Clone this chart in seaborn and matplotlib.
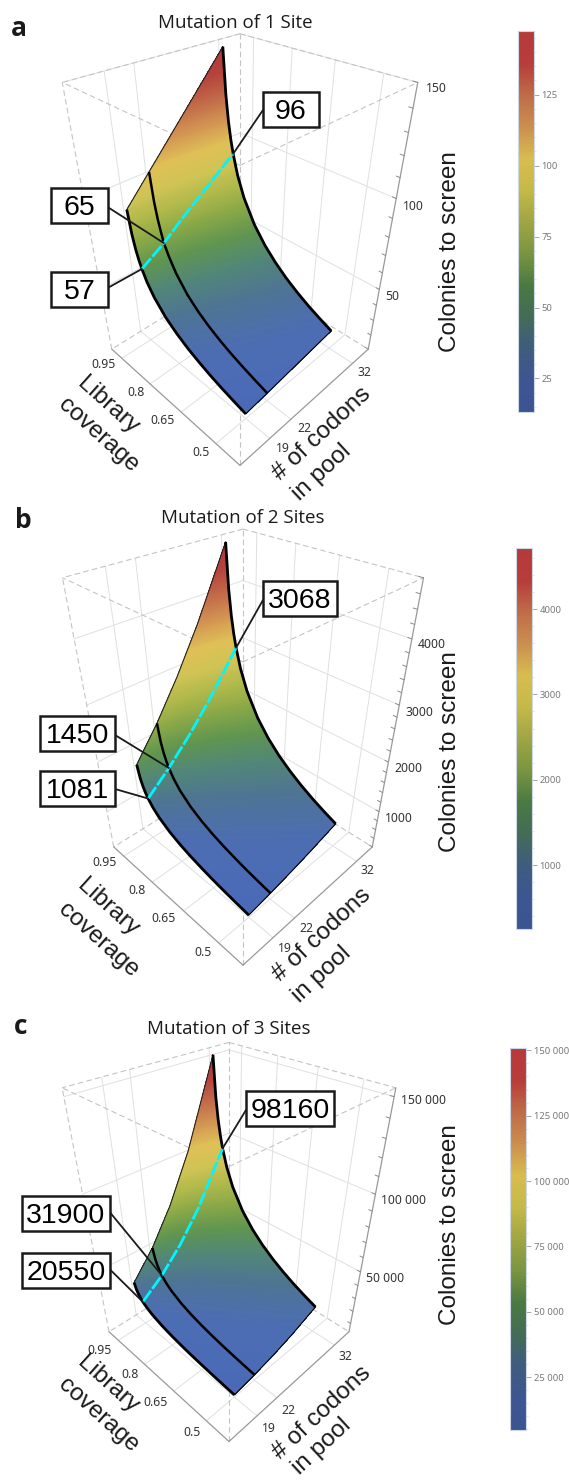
import numpy as np
import matplotlib
matplotlib.use("Agg")
import matplotlib.pyplot as plt
import seaborn as sns
from matplotlib.cm import ScalarMappable
from matplotlib.colors import Normalize
from matplotlib.patches import Rectangle
from matplotlib.ticker import FixedLocator
from mpl_toolkits.mplot3d import proj3d

W, H = 569, 1482

# table rows are coverage, columns are codons
CODONS = [19, 22, 25, 28, 32]
COVERAGE = [0.5, 0.55, 0.6, 0.65, 0.7, 0.75, 0.8, 0.85, 0.9, 0.93, 0.95, 0.96, 0.97, 0.98, 0.99]

COLONIES_1 = [
    [13.2, 15.2, 17.3, 19.4, 22.2],
    [15.2, 17.6, 20.0, 22.4, 25.6],
    [17.4, 20.2, 22.9, 25.6, 29.3],
    [19.9, 23.1, 26.2, 29.4, 33.6],
    [22.9, 26.5, 30.1, 33.7, 38.5],
    [26.3, 30.5, 34.7, 38.8, 44.4],
    [30.6, 35.4, 40.2, 45.1, 51.5],
    [36.0, 41.7, 47.4, 53.1, 60.7],
    [43.8, 50.7, 57.6, 64.5, 73.7],
    [50.5, 58.5, 66.5, 74.5, 85.1],
    [57.0, 65.0, 74.9, 83.9, 96.0],
    [61.2, 70.8, 80.5, 90.1, 103.0],
    [66.6, 77.2, 87.7, 98.2, 112.2],
    [74.3, 86.1, 97.8, 109.5, 125.2],
    [87.5, 101.3, 115.1, 128.9, 147.4],
]
COLONIES_2 = [
    [250, 335, 433, 543, 710],
    [288, 387, 499, 626, 818],
    [331, 443, 573, 718, 938],
    [379, 508, 656, 823, 1075],
    [435, 583, 753, 944, 1233],
    [500, 671, 866, 1087, 1419],
    [581, 779, 1006, 1261, 1648],
    [685, 918, 1186, 1487, 1943],
    [831, 1115, 1439, 1806, 2358],
    [960, 1287, 1662, 2085, 2723],
    [1081, 1450, 1873, 2349, 3068],
    [1162, 1558, 2012, 2524, 3296],
    [1266, 1697, 2192, 2749, 3591],
    [1412, 1893, 2445, 3067, 4006],
    [1662, 2229, 2878, 3610, 4716],
]
COLONIES_3 = [
    [4753, 7379, 10828, 15213, 22708],
    [5480, 8508, 12484, 17540, 26182],
    [6283, 9754, 14313, 20108, 30015],
    [7202, 11180, 16406, 23050, 34406],
    [8258, 12820, 18813, 26430, 39453],
    [9506, 14758, 21656, 30426, 45416],
    [11036, 17133, 25141, 35321, 52724],
    [13012, 20199, 29641, 41643, 62161],
    [15796, 24522, 35984, 50555, 75465],
    [18238, 28313, 41547, 58370, 87130],
    [20550, 31900, 46813, 65768, 98160],
    [22079, 34276, 50297, 70663, 105480],
    [24055, 37343, 54797, 76986, 114917],
    [26832, 41655, 61125, 85876, 128188],
    [31586, 49034, 71953, 101089, 150897],
]

CODON_TICKS = [19, 22, 32]
COVERAGE_TICKS = [0.5, 0.65, 0.8, 0.95]
COVERAGE_LABELS = ["0.5", "0.65", "0.8", "0.95"]
CODON_LIM = (15.1, 34.9)
COVERAGE_LIM = (0.405, 1.007)

Z_TICKS_1 = [50, 100, 150]
Z_LABELS_1 = ["50", "100", "150"]
Z_TICKS_2 = [1000, 2000, 3000, 4000]
Z_LABELS_2 = ["1000", "2000", "3000", "4000"]
Z_TICKS_3 = [50000, 100000, 150000]
Z_LABELS_3 = ["50 000", "100 000", "150 000"]

BAR_TICKS_1 = [25, 50, 75, 100, 125]
BAR_LABELS_1 = ["25", "50", "75", "100", "125"]
BAR_TICKS_2 = [1000, 2000, 3000, 4000]
BAR_LABELS_2 = ["1000", "2000", "3000", "4000"]
BAR_TICKS_3 = [25000, 50000, 75000, 100000, 125000, 150000]
BAR_LABELS_3 = ["25 000", "50 000", "75 000", "100 000", "125 000", "150 000"]

BAR_COLORS = ["#3c5490", "#3d5592", "#3f5c7e", "#436c56", "#4a7a42", "#7a9541", "#a0a543",
              "#c4ba49", "#d8bc4e", "#cb8e4f", "#bf6c48", "#b73c3a", "#b73a3a"]
SURF_COLORS = ["#4a6ab8", "#4d6db2", "#4e7494", "#528678", "#5f9550", "#87a748", "#aeb84a",
               "#d0c355", "#dfc057", "#d39652", "#c26b49", "#b5433c", "#b03a38"]

# layout of each panel, in pixels of the output
PANELS = [
    dict(letter="a", title="Mutation of 1 Site", table=COLONIES_1, zlim=(10, 150),
         zticks=Z_TICKS_1, zlabels=Z_LABELS_1, zminor=10,
         barticks=BAR_TICKS_1, barlabels=BAR_LABELS_1, barminor=5,
         cx=240, cy=237.4, elev=34.9, half=0.1883, ratio=1.503, focal=559.5,
         letter_xy=(19, 28), title_xy=(235, 23),
         bar=(518, 31, 16, 381), colonies_xy=(450, 252),
         cov_xy=[(201, 453), (163, 420), (136, 392), (104, 365)],
         codon_xy=[(283, 448), (304, 429), (364, 372)],
         z_xy=[(392, 297), (413, 206), (436, 88)],
         lib_xy=[(108, 406), (98, 435)], pool_xy=[(322, 434), (322, 473)],
         callouts=[("96", 32, (291, 109), 56, (263, 110)),
                   ("65", 22, (79.3, 205), 57, (107.6, 207)),
                   ("57", 19, (79.3, 289), 57, (107.6, 288))]),
    dict(letter="b", title="Mutation of 2 Sites", table=COLONIES_2, zlim=(200, 4800),
         zticks=Z_TICKS_2, zlabels=Z_LABELS_2, zminor=200,
         barticks=BAR_TICKS_2, barlabels=BAR_LABELS_2, barminor=200,
         cx=243, cy=734.6, elev=35.0, half=0.1923, ratio=1.5, focal=554,
         letter_xy=(23, 520), title_xy=(243, 518),
         bar=(516, 548, 16, 381), colonies_xy=(450, 752),
         cov_xy=[(203, 952), (164, 919), (137, 890), (105, 863)],
         codon_xy=[(285, 948), (306, 928), (367, 870)],
         z_xy=[(399, 818), (408, 769), (419, 712), (432, 645)],
         lib_xy=[(108, 908), (98, 940)], pool_xy=[(322, 935), (322, 975)],
         callouts=[("3068", 32, (300, 598), 74, (263, 600)),
                   ("1450", 22, (77.5, 733), 75, (115, 735)),
                   ("1081", 19, (77.5, 788), 75, (115, 789))]),
    dict(letter="c", title="Mutation of 3 Sites", table=COLONIES_3, zlim=(3000, 154000),
         zticks=Z_TICKS_3, zlabels=Z_LABELS_3, zminor=10000,
         barticks=BAR_TICKS_3, barlabels=BAR_LABELS_3, barminor=5000,
         cx=229, cy=1229.7, elev=35.0, half=0.1941, ratio=1.468, focal=508.6,
         letter_xy=(21, 1027), title_xy=(229, 1029),
         bar=(510, 1048, 16, 382), colonies_xy=(450, 1225),
         cov_xy=[(192, 1432), (156, 1402), (130, 1375), (100, 1350)],
         codon_xy=[(269, 1428), (288, 1410), (345, 1357)],
         z_xy=[(385, 1279), (404, 1200), (424, 1100)],
         lib_xy=[(108, 1385), (98, 1415)], pool_xy=[(322, 1413), (322, 1447)],
         callouts=[("98160", 32, (290, 1108), 88, (246, 1110)),
                   ("31900", 22, (66, 1213), 88, (110.5, 1213)),
                   ("20550", 19, (66, 1270), 88, (110.5, 1270))]),
]

sns.set_theme(style="white")
plt.rcParams["font.family"] = ["Liberation Sans", "DejaVu Sans"]

surf_cmap = sns.blend_palette(SURF_COLORS, as_cmap=True)
bar_cmap = sns.blend_palette(BAR_COLORS, as_cmap=True)

fig = plt.figure(figsize=(W / 100, H / 100), dpi=100)
page = fig.add_axes([0, 0, 1, 1], zorder=5)
page.set_xlim(0, W)
page.set_ylim(H, 0)
page.set_autoscale_on(False)
page.axis("off")

GRID = dict(color="#e0e0e0", lw=0.7)
EDGE = dict(color="#999999", lw=0.9)
DASH = dict(color="#c4c4c4", lw=0.8, ls=(0, (5, 3)))


def seg(ax, p, q, **kw):
    ax.plot([p[0], q[0]], [p[1], q[1]], [p[2], q[2]], **kw)


def draw_box(ax, p):
    x0, x1 = CODON_LIM
    y0, y1 = COVERAGE_LIM
    z0, z1 = p["zlim"]

    for n in CODON_TICKS:
        seg(ax, (n, y0, z0), (n, y1, z0), **GRID)
        seg(ax, (n, y1, z0), (n, y1, z1), **GRID)
    for c in COVERAGE_TICKS:
        seg(ax, (x0, c, z0), (x1, c, z0), **GRID)
        seg(ax, (x1, c, z0), (x1, c, z1), **GRID)
    for z in p["zticks"]:
        seg(ax, (x1, y0, z), (x1, y1, z), **GRID)
        seg(ax, (x1, y1, z), (x0, y1, z), **GRID)

    # dashed top, back and hidden edges
    seg(ax, (x0, y0, z1), (x1, y0, z1), **DASH)
    seg(ax, (x0, y0, z1), (x0, y1, z1), **DASH)
    seg(ax, (x1, y1, z1), (x1, y0, z1), **DASH)
    seg(ax, (x1, y1, z1), (x0, y1, z1), **DASH)
    seg(ax, (x0, y0, z0), (x0, y0, z1), **DASH)
    seg(ax, (x0, y1, z0), (x0, y1, z1), **DASH)
    seg(ax, (x1, y1, z0), (x1, y1, z1), **DASH)
    seg(ax, (x1, y1, z0), (x1, y0, z0), **DASH)
    seg(ax, (x1, y1, z0), (x0, y1, z0), **DASH)

    # solid axes
    seg(ax, (x0, y0, z0), (x1, y0, z0), **EDGE)
    seg(ax, (x0, y0, z0), (x0, y1, z0), **EDGE)
    seg(ax, (x1, y0, z0), (x1, y0, z1), **EDGE)

    # ticks on the height axis
    zt = np.arange(0, z1 + 1, p["zminor"])
    for z in zt[zt >= z0]:
        seg(ax, (x1, y0, z), (x1, y0 + 0.012, z), color="#8c8c8c", lw=0.7)


def draw_panel(p):
    # 3d box, placed so that one unit of the projection is `scale` pixels
    zoom = 0.6
    world = 0.5 * 1.8294640721620434 * 25 / 24 * zoom / np.sqrt(2 + p["ratio"] ** 2)
    focal_length = world / (10 * p["half"])
    scale = p["focal"] / focal_length

    ax = fig.add_axes([0, 0, 1, 1], projection="3d", zorder=1)
    ax.set_box_aspect((1, 1, p["ratio"]), zoom=zoom)
    ax.set_proj_type("persp", focal_length=focal_length)
    ax.view_init(elev=p["elev"], azim=-135)
    ax.set_xlim(*CODON_LIM, view_margin=0)
    ax.set_ylim(*COVERAGE_LIM, view_margin=0)
    ax.set_zlim(*p["zlim"], view_margin=0)
    ax.set_axis_off()
    ax.patch.set_alpha(0)

    (vx0, vy0), (vx1, vy1) = ax.viewLim.get_points()
    side = (vx1 - vx0) * scale
    left = p["cx"] + vx0 * scale
    top = p["cy"] - vy1 * scale
    ax.set_position([left / W, 1 - (top + side) / H, side / W, side / H])
    draw_box(ax, p)

    M = ax.get_proj()

    def to_page(n, c, z):
        px, py, _ = proj3d.proj_transform(n, c, z, M)
        return p["cx"] + px * scale, p["cy"] - py * scale

    table = np.array(p["table"], dtype=float)
    nn, cc = np.meshgrid(np.array(CODONS, dtype=float), np.array(COVERAGE))
    gx, gy = to_page(nn.ravel(), cc.ravel(), table.ravel())
    gx = gx.reshape(table.shape)
    gy = gy.reshape(table.shape)

    norm = Normalize(table.min(), table.max())
    # many filled levels so the colour runs smoothly up the surface
    page.contourf(gx, gy, table, levels=np.linspace(table.min(), table.max(), 240),
                  cmap=surf_cmap, norm=norm, antialiased=False, zorder=2)

    # outline of the surface
    page.plot(gx[0], gy[0], color="black", lw=0.8, zorder=3)
    page.plot(gx[-1], gy[-1], color="#222222", lw=0.8, zorder=3)
    for j, lw in ((CODONS.index(19), 2.0), (CODONS.index(22), 1.8), (CODONS.index(32), 2.0)):
        page.plot(gx[:, j], gy[:, j], color="black", lw=lw, zorder=3, solid_capstyle="butt")
    row = COVERAGE.index(0.95)
    page.plot(gx[row], gy[row], color="#00f5ff", lw=2.0, ls=(0, (5, 0.8)), zorder=4)

    # callouts
    for text, n, (bx, by), bw, start in p["callouts"]:
        j = CODONS.index(n)
        page.plot([start[0], gx[row, j]], [start[1], gy[row, j]], color="#1a1a1a", lw=1.3, zorder=6)
        page.add_patch(Rectangle((bx - bw / 2, by - 17.5), bw, 35, fc="white", ec="#1a1a1a",
                                 lw=1.8, zorder=7))
        page.text(bx, by, text, fontsize=20.5, color="black", ha="center", va="center_baseline",
                  zorder=8)

    # text around the box
    page.text(*p["letter_xy"], p["letter"], fontsize=19, fontweight="bold", family="Open Sans",
              color="#1a1a1a", ha="center", va="center")
    page.text(*p["title_xy"], p["title"], fontsize=13.5, family="Open Sans", color="#1a1a1a",
              ha="center", va="center")
    for xy, lab in zip(p["cov_xy"], COVERAGE_LABELS):
        page.text(*xy, lab, fontsize=8.8, family="Noto Sans", color="#333333", ha="center", va="center")
    for xy, lab in zip(p["codon_xy"], CODON_TICKS):
        page.text(*xy, str(lab), fontsize=8.8, family="Noto Sans", color="#333333", ha="center", va="center")
    for xy, lab in zip(p["z_xy"], p["zlabels"]):
        page.text(*xy, lab, fontsize=8.8, family="Noto Sans", color="#333333", ha="center", va="center")

    label = dict(fontsize=17.5, color="#1a1a1a", ha="center", va="center", rotation_mode="anchor")
    page.text(*p["lib_xy"][0], "Library", rotation=-42, **label)
    page.text(*p["lib_xy"][1], "coverage", rotation=-42, **label)
    page.text(*p["pool_xy"][0], "# of codons", rotation=43, **label)
    page.text(*p["pool_xy"][1], "in pool", rotation=43, **label)
    page.text(*p["colonies_xy"], "Colonies to screen", rotation=90, **label)

    # colour bar
    bx, by, bw, bh = p["bar"]
    cax = fig.add_axes([bx / W, 1 - (by + bh) / H, bw / W, bh / H], zorder=2)
    cb = fig.colorbar(ScalarMappable(norm=norm, cmap=bar_cmap), cax=cax)
    cb.outline.set_edgecolor("#cfd6e4")
    cb.outline.set_linewidth(0.8)
    cb.set_ticks(p["barticks"], labels=p["barlabels"])
    minor = np.arange(0, table.max(), p["barminor"])
    cax.yaxis.set_minor_locator(FixedLocator(minor[minor >= table.min()]))
    cax.tick_params(axis="y", which="major", length=3.5, width=0.6, color="#999999",
                    labelsize=6.8, labelcolor="#777777", pad=2, right=True, left=False)
    cax.tick_params(axis="y", which="minor", length=1.5, width=0.4, color="#cccccc",
                    right=True, left=False)
    for t in cax.get_yticklabels():
        t.set_family("Noto Sans")


for panel in PANELS:
    draw_panel(panel)

fig.savefig("out.png", dpi=100)
